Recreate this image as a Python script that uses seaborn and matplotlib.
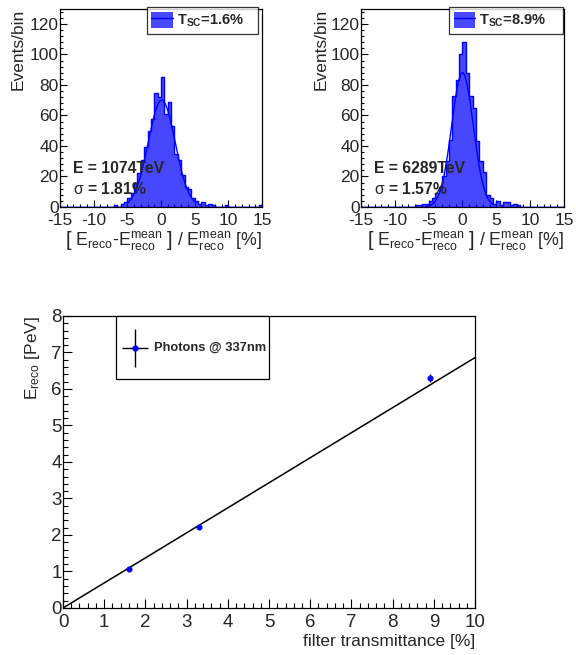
import numpy as np
import pandas as pd
import matplotlib
matplotlib.use("Agg")
import matplotlib.pyplot as plt
import matplotlib.patches as mpatches
from matplotlib.lines import Line2D
from matplotlib.ticker import MultipleLocator
import seaborn as sns

sns.set_style("white")
plt.rcParams['font.family'] = ['Liberation Sans', 'DejaVu Sans']
plt.rcParams['mathtext.fontset'] = 'custom'
plt.rcParams['mathtext.rm'] = 'Liberation Sans'
plt.rcParams['mathtext.it'] = 'Liberation Sans:italic'
plt.rcParams['mathtext.bf'] = 'Liberation Sans:bold'
plt.rcParams['axes.unicode_minus'] = False

# --- data -------------------------------------------------------------
# histogram bins: -15% .. 15% in 0.5% steps (lower edges listed below)
bin_lo = [-7.0, -6.5, -6.0, -5.5, -5.0, -4.5, -4.0, -3.5, -3.0, -2.5,
          -2.0, -1.5, -1.0, -0.5, 0.0, 0.5, 1.0, 1.5, 2.0, 2.5,
          3.0, 3.5, 4.0, 4.5, 5.0, 5.5, 6.0, 6.5, 7.0, 7.5,
          8.0, 9.5, 14.5]
counts_t16 = [1, 0, 2, 3, 6, 9, 16, 22, 31, 39,
              50, 58, 75, 72, 85, 61, 69, 53, 35, 31,
              21, 13, 12, 6, 4, 2, 3, 1, 2, 1,
              0, 1, 1]
counts_t89 = [1, 1, 2, 2, 4, 6, 9, 13, 20, 30,
              44, 73, 83, 100, 108, 88, 73, 65, 43, 30,
              23, 8, 6, 2, 4, 1, 3, 3, 1, 2,
              1, 0, 0]
bin_width = 0.5

# gaussian fits: amplitude, mean, sigma, fit range
fit_t16 = dict(amp=70, mean=0.1, sigma=2.0, lo=-5.0, hi=5.0)
fit_t89 = dict(amp=88, mean=0.0, sigma=1.6, lo=-5.5, hi=4.5)

legend_top = ["T$_{\\mathbf{SC}}$=1.6%", "T$_{\\mathbf{SC}}$=8.9%"]
energy_txt = ["E = 1074TeV", "E = 6289TeV"]
sigma_txt = ["1.81%", "1.57%"]

# reconstructed energy vs filter transmittance
transmittance = [1.6, 3.3, 8.9]
energy_pev = [1.074, 2.22, 6.289]
energy_err = [0.03, 0.03, 0.11]
lin_slope = 0.686   # PeV per %
lin_range = [0, 10]

blue = "#0000ff"
fill = "#4848ff"

fig = plt.figure(figsize=(5.76, 6.55), dpi=100)
ax1 = fig.add_axes([0.1042, 0.6840, 0.3507, 0.3027])
ax2 = fig.add_axes([0.6267, 0.6840, 0.3524, 0.3027])
ax3 = fig.add_axes([0.1094, 0.0718, 0.7153, 0.4458])

edges = [float(e) for e in np.arange(-15, 15.001, bin_width)]
xlab = (r"$\left[\ \mathrm{E_{reco}\text{-}E_{reco}^{mean}}\ \right]$"
        r" / $\mathrm{E_{reco}^{mean}}$ [%]")

for ax, counts, fit, leg, etxt, stxt, lx, lw, ylx in [
        (ax1, counts_t16, fit_t16, legend_top[0], energy_txt[0], sigma_txt[0], 0.429, 0.551, -0.17),
        (ax2, counts_t89, fit_t89, legend_top[1], energy_txt[1], sigma_txt[1], 0.433, 0.562, -0.16)]:
    df = pd.DataFrame({"x": np.array(bin_lo) + bin_width / 2, "n": counts})
    sns.histplot(data=df, x="x", weights="n", bins=edges, element="step",
                 fill=True, color=blue, alpha=0.72, linewidth=1.0, ax=ax)
    xs = np.linspace(fit["lo"], fit["hi"], 200)
    ys = fit["amp"] * np.exp(-0.5 * ((xs - fit["mean"]) / fit["sigma"]) ** 2)
    sns.lineplot(x=xs, y=ys, color=blue, linewidth=1.0, ax=ax)

    ax.set_xlim(-15, 15)
    ax.set_ylim(0, 130)
    ax.xaxis.set_major_locator(MultipleLocator(5))
    ax.xaxis.set_minor_locator(MultipleLocator(1))
    ax.yaxis.set_major_locator(MultipleLocator(20))
    ax.yaxis.set_minor_locator(MultipleLocator(4))
    ax.tick_params(which="both", direction="in", labelsize=12.5, color="black",
                   bottom=True, left=True, top=False, right=False)
    ax.tick_params(which="major", length=5, width=0.8)
    ax.tick_params(which="minor", length=2.5, width=0.8)
    ax.tick_params(axis="x", pad=4)
    ax.tick_params(axis="y", pad=1)
    for s in ax.spines.values():
        s.set_color("black")
        s.set_linewidth(0.9)

    ax.set_ylabel("Events/bin", fontsize=12.5, loc="top")
    ax.yaxis.set_label_coords(ylx, 1.0)
    ax.set_xlabel(xlab, fontsize=12.8, loc="right")
    ax.xaxis.set_label_coords(1.0, -0.17)
    ax.xaxis.label.set_va("center")

    ax.text(-13.1, 25, etxt, fontsize=11.3, fontweight="bold", va="center")
    ax.text(-13.1, 12, r"$\mathrm{\sigma}$ = " + stxt, fontsize=11.3,
            fontweight="bold", va="center")

    h = (mpatches.Patch(facecolor=fill, edgecolor="none"),
         Line2D([], [], color=blue, lw=1))
    lg = ax.legend([h], [leg], loc="upper left", mode="expand",
                   bbox_to_anchor=(lx, 0.859, lw, 0.15),
                   prop=dict(size=10.5, weight="bold"), frameon=True,
                   fancybox=False, borderpad=0.32, handlelength=1.5,
                   handleheight=1.4, handletextpad=0.25, borderaxespad=0)
    lg.get_frame().set_edgecolor("black")
    lg.get_frame().set_linewidth(0.9)

# --- bottom panel --------------------------------------------------------
xs = np.array(lin_range, dtype=float)
sns.lineplot(x=xs, y=lin_slope * xs, color="black", linewidth=1.1, ax=ax3)
ax3.errorbar(transmittance, energy_pev, yerr=energy_err, fmt="none",
             ecolor="black", elinewidth=1, capsize=0, zorder=3)
sns.scatterplot(x=transmittance, y=energy_pev, color=blue, s=16,
                edgecolor=blue, zorder=4, ax=ax3)
ax3.set_xlim(0, 10)
ax3.set_ylim(0, 8)
ax3.xaxis.set_major_locator(MultipleLocator(1))
ax3.xaxis.set_minor_locator(MultipleLocator(0.2))
ax3.yaxis.set_major_locator(MultipleLocator(1))
ax3.yaxis.set_minor_locator(MultipleLocator(0.2))
ax3.tick_params(which="both", direction="in", labelsize=13.5, color="black",
                bottom=True, left=True, top=False, right=False)
ax3.tick_params(which="major", length=6.5, width=0.8)
ax3.tick_params(which="minor", length=3.5, width=0.8)
ax3.tick_params(axis="x", pad=4)
ax3.tick_params(axis="y", pad=1)
for s in ax3.spines.values():
    s.set_color("black")
    s.set_linewidth(0.9)
ax3.set_ylabel(r"$\mathrm{E_{reco}}$ [PeV]", fontsize=12.5, loc="top")
ax3.yaxis.set_label_coords(-0.05, 1.0)
ax3.set_xlabel("filter transmittance [%]", fontsize=12.5, loc="right")
ax3.xaxis.set_label_coords(1.0, -0.115)
ax3.xaxis.label.set_va("center")

# legend box (ROOT TLegend look), drawn in axes coordinates
ax3.add_patch(mpatches.Rectangle((0.128, 0.784), 0.373, 0.216,
                                 transform=ax3.transAxes, facecolor="white",
                                 edgecolor="black", linewidth=0.9,
                                 zorder=5, clip_on=False))
ax3.errorbar([0.1748], [0.891], xerr=[0.0323], yerr=[0.0644],
             transform=ax3.transAxes, fmt="o", color=blue, markersize=3.5,
             ecolor="black", elinewidth=1, capsize=0, zorder=6, clip_on=False)
ax3.text(0.2209, 0.891, "Photons @ 337nm", transform=ax3.transAxes,
         fontsize=9.3, fontweight="bold", va="center", zorder=6)

fig.savefig("out.png", dpi=100)
